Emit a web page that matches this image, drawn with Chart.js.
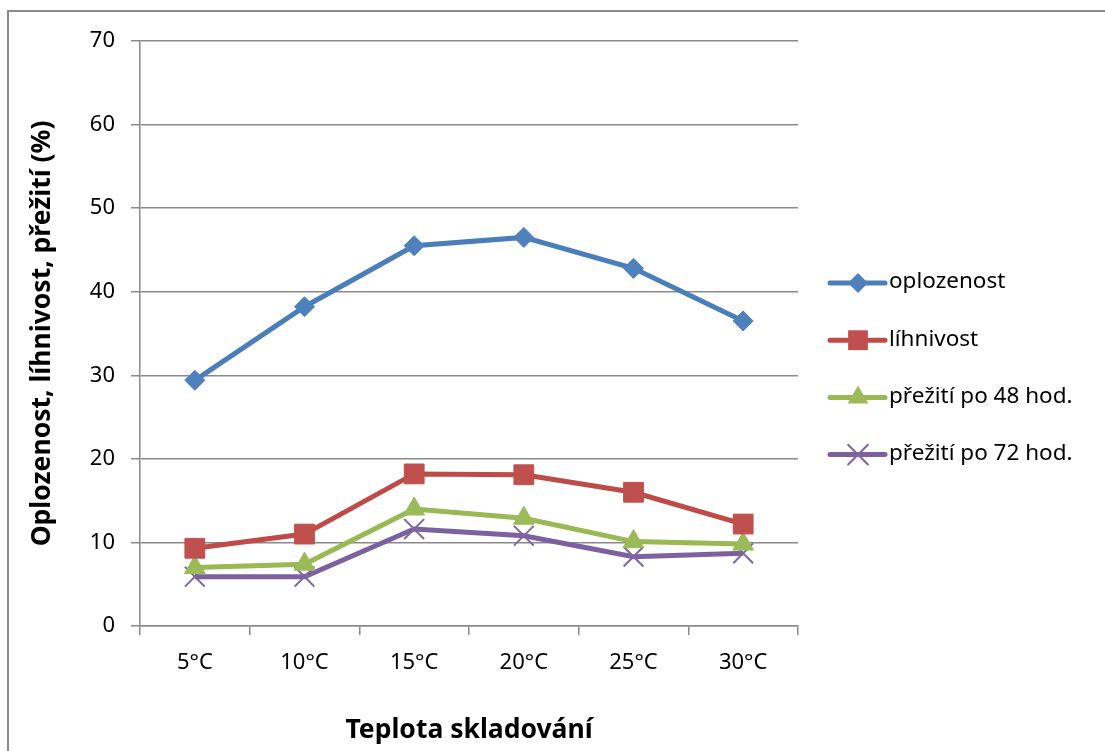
<!DOCTYPE html>
<html>
<head>
<meta charset="utf-8">
<script src="https://cdn.jsdelivr.net/npm/chart.js@4.4.0/dist/chart.umd.min.js"></script>
<style>
  html, body { margin: 0; padding: 0; background: #ffffff; }
  #wrap { width: 1105px; height: 751px; }
</style>
</head>
<body>
<div id="wrap"><canvas id="c" width="1105" height="751"></canvas></div>
<script>
// Storage temperature categories and measured percentages
const categories = ['5°C', '10°C', '15°C', '20°C', '25°C', '30°C'];
const oplozenost = [29.4, 38.2, 45.5, 46.5, 42.8, 36.5];
const lihnivost = [9.3, 11.0, 18.2, 18.1, 16.0, 12.2];
const prezitiPo48 = [7.0, 7.4, 14.0, 12.9, 10.1, 9.8];
const prezitiPo72 = [5.9, 5.9, 11.6, 10.8, 8.3, 8.7];
const yTicks = [0, 10, 20, 30, 40, 50, 60, 70];
const seriesNames = ['oplozenost', 'líhnivost', 'přežití po 48 hod.', 'přežití po 72 hod.'];

const FONT = '"Noto Sans", "Open Sans", "DejaVu Sans", sans-serif';
const GRID = '#8a8a8a';

const styles = [
  { line: '#4a7ebb', fill: '#4f81bd', point: 'rectRot', radius: 10 },
  { line: '#be4b48', fill: '#c0504d', point: 'rect', radius: 14 },
  { line: '#98b954', fill: '#9bbb59', point: 'triangle', radius: 12 },
  { line: '#7d60a0', fill: '#8064a2', point: 'crossRot', radius: 14 }
];

const values = [oplozenost, lihnivost, prezitiPo48, prezitiPo72];

const datasets = values.map((v, i) => ({
  label: seriesNames[i],
  data: v,
  borderColor: styles[i].line,
  backgroundColor: styles[i].fill,
  borderWidth: 5,
  pointStyle: styles[i].point,
  pointRadius: styles[i].radius,
  pointHoverRadius: styles[i].radius,
  pointBackgroundColor: styles[i].fill,
  pointBorderColor: styles[i].fill,
  pointBorderWidth: styles[i].point === 'crossRot' ? 2 : 1,
  tension: 0,
  fill: false
}));

// Draws one legend marker in the same shape used on the lines
function drawMarker(ctx, s, x, y) {
  ctx.save();
  ctx.fillStyle = s.fill;
  ctx.strokeStyle = s.fill;
  ctx.beginPath();
  const r = s.radius;
  if (s.point === 'rectRot') {
    ctx.moveTo(x, y - r); ctx.lineTo(x + r, y); ctx.lineTo(x, y + r); ctx.lineTo(x - r, y);
    ctx.closePath(); ctx.fill();
  } else if (s.point === 'rect') {
    const h = r * Math.SQRT1_2;
    ctx.rect(x - h, y - h, 2 * h, 2 * h); ctx.fill();
  } else if (s.point === 'triangle') {
    for (let k = 0; k < 3; k++) {
      const a = k * 2 * Math.PI / 3;
      const px = x + Math.sin(a) * r, py = y - Math.cos(a) * r;
      if (k === 0) ctx.moveTo(px, py); else ctx.lineTo(px, py);
    }
    ctx.closePath(); ctx.fill();
  } else {
    const d = r * Math.SQRT1_2;
    ctx.lineWidth = 2;
    ctx.moveTo(x - d, y - d); ctx.lineTo(x + d, y + d);
    ctx.moveTo(x + d, y - d); ctx.lineTo(x - d, y + d);
    ctx.stroke();
  }
  ctx.restore();
}

const frameAndLegend = {
  id: 'frameAndLegend',
  beforeDraw(chart) {
    const ctx = chart.ctx;
    ctx.save();
    ctx.fillStyle = '#ffffff';
    ctx.fillRect(0, 0, chart.width, chart.height);
    ctx.strokeStyle = '#8a8a8a';
    ctx.lineWidth = 2;
    ctx.strokeRect(8, 11, chart.width + 20, chart.height + 20);
    ctx.restore();
  },
  afterDraw(chart) {
    const ctx = chart.ctx;
    const area = chart.chartArea;
    const x0 = area.right + 32;
    const startY = 283;
    const step = 57.2;
    ctx.save();
    chart.data.datasets.forEach((ds, i) => {
      const y = startY + i * step;
      ctx.strokeStyle = ds.borderColor;
      ctx.lineWidth = 5;
      ctx.lineCap = 'round';
      ctx.beginPath();
      ctx.moveTo(x0, y);
      ctx.lineTo(x0 + 55, y);
      ctx.stroke();
      drawMarker(ctx, styles[i], x0 + 28, y);
      ctx.fillStyle = '#000000';
      ctx.font = '22.5px ' + FONT;
      ctx.textBaseline = 'middle';
      ctx.textAlign = 'left';
      ctx.fillText(ds.label, x0 + 59, y - 1);
    });
    ctx.restore();
  }
};

new Chart(document.getElementById('c'), {
  type: 'line',
  data: { labels: categories, datasets },
  plugins: [frameAndLegend],
  options: {
    responsive: false,
    animation: false,
    devicePixelRatio: 1,
    layout: { padding: { left: 0, top: 41, right: 307, bottom: 0 } },
    plugins: {
      legend: { display: false },
      tooltip: { enabled: false }
    },
    scales: {
      x: {
        type: 'category',
        offset: true,
        afterFit(scale) { scale.height = 125; },
        grid: {
          offset: true,
          drawOnChartArea: false,
          drawTicks: true,
          tickLength: 9,
          color: GRID,
          lineWidth: 1.5
        },
        border: { display: true, color: GRID, width: 1.5 },
        ticks: {
          color: '#000000',
          font: { family: FONT, size: 22 },
          padding: 15,
          maxRotation: 0
        },
        title: {
          display: true,
          text: 'Teplota skladování',
          color: '#000000',
          font: { family: FONT, size: 26.5, weight: 'bold' },
          padding: { top: 0, bottom: 5 }
        }
      },
      y: {
        min: 0,
        max: 70,
        afterFit(scale) { scale.width = 140; },
        afterBuildTicks(scale) { scale.ticks = yTicks.map(v => ({ value: v })); },
        grid: {
          color: GRID,
          lineWidth: 1.5,
          drawTicks: true,
          tickLength: 9
        },
        border: { display: true, color: GRID, width: 1.5 },
        ticks: {
          color: '#000000',
          font: { family: FONT, size: 22 },
          padding: 16
        },
        title: {
          display: true,
          text: 'Oplozenost, líhnivost, přežití (%)',
          color: '#000000',
          font: { family: FONT, size: 26.5, weight: 'bold' },
          padding: { top: 27, bottom: 0 }
        }
      }
    }
  }
});
</script>
</body>
</html>
